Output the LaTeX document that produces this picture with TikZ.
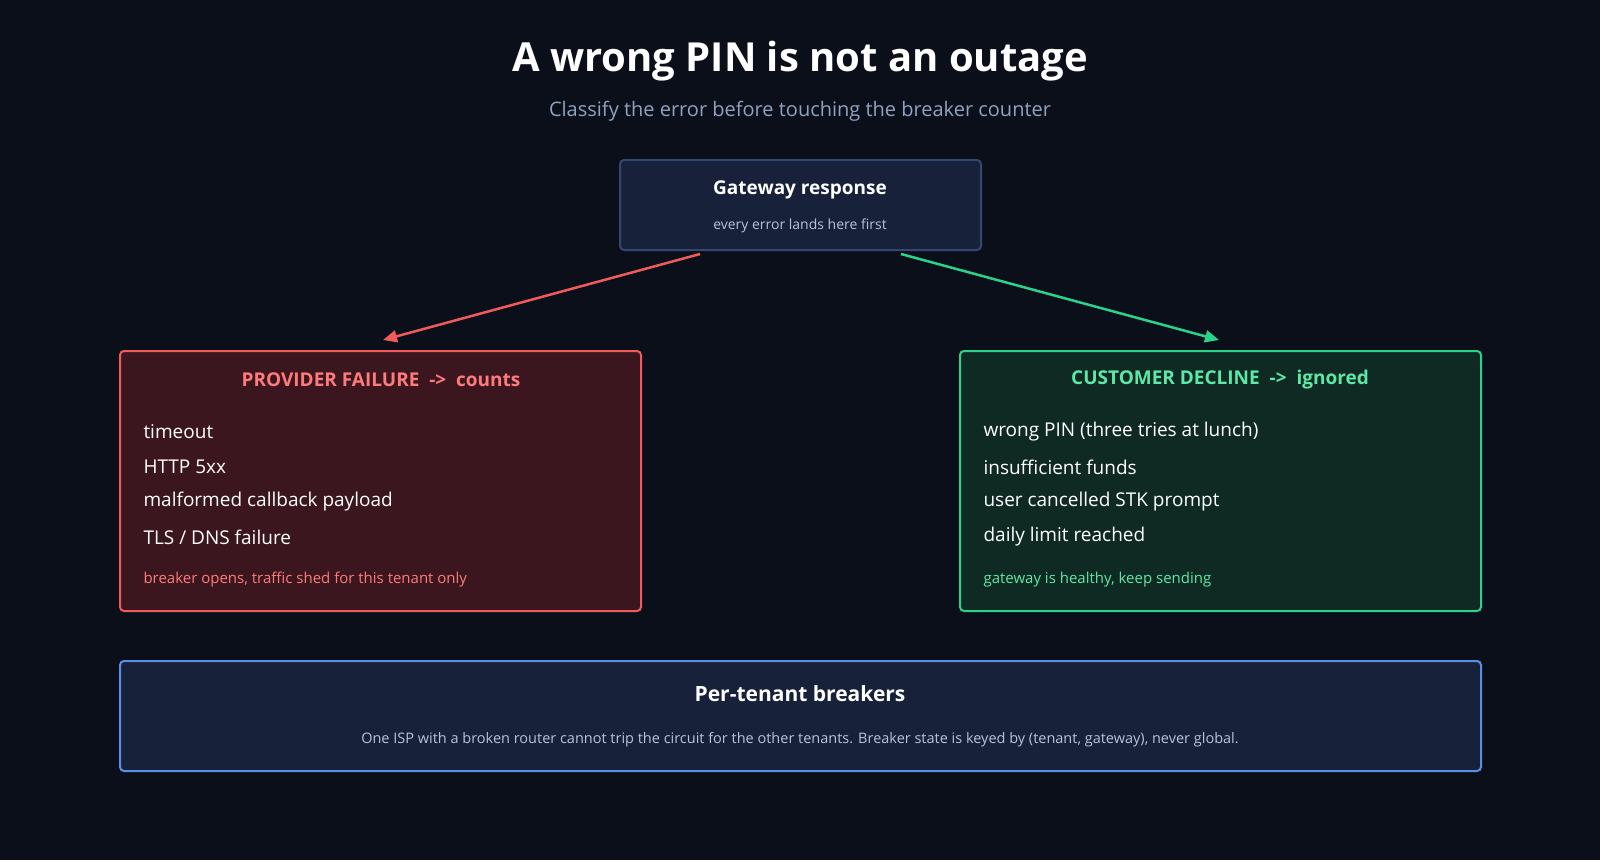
\documentclass[tikz,border=0pt]{standalone}
\usepackage{fontspec}
\setmainfont{Open Sans}
\usetikzlibrary{arrows.meta}
\definecolor{bg}{HTML}{0B0F1A}
\definecolor{gfill}{HTML}{172139}
\definecolor{gline}{HTML}{34476F}
\definecolor{rfill}{HTML}{3B161F}
\definecolor{rline}{HTML}{F05A5A}
\definecolor{rtext}{HTML}{FF7B7B}
\definecolor{cfill}{HTML}{0F2A22}
\definecolor{cline}{HTML}{2BD38A}
\definecolor{ctext}{HTML}{5EE8A8}
\definecolor{bline}{HTML}{5B8EE6}
\definecolor{sub}{HTML}{8FA3C0}
\definecolor{small}{HTML}{B8C4D8}
\tikzset{
 box/.style={draw, line width=2pt, rounded corners=4pt},
 item/.style={anchor=west, text=white, font=\fontsize{19}{22}\selectfont},
 arr/.style={line width=2.5pt, -{Triangle[length=14pt,width=12pt]}}
}
\begin{document}
\begin{tikzpicture}[x=1pt,y=-1pt]
\fill[bg] (0,0) rectangle (1600,860);
\useasboundingbox (0,0) rectangle (1600,860);
\node (title) at (800,61) {\fontsize{40}{46}\selectfont\bfseries\color{white}A wrong PIN is not an outage};
\node (subt) at (800,111) {\fontsize{20}{24}\selectfont\color{sub}Classify the error before touching the breaker counter};
% gateway
\draw[box, fill=gfill, draw=gline] (620,160) rectangle (981,250);
\node (gw) at (800,190) {\fontsize{19}{22}\selectfont\bfseries\color{white}Gateway response};
\node (gws) at (800,226) {\fontsize{14}{17}\selectfont\color{small}every error lands here first};
\coordinate (ga) at (700,254); \coordinate (gb) at (901,254);
\coordinate (la) at (383,340); \coordinate (rb) at (1219,340);
\draw[arr, draw=rline, fill=rline] (ga) -- (la);
\draw[arr, draw=cline, fill=cline] (gb) -- (rb);
% left
\draw[box, fill=rfill, draw=rline] (120,351) rectangle (641,611);
\node (lh) at (381,380) {\fontsize{19}{22}\selectfont\bfseries\color{rtext}PROVIDER FAILURE\ \ ->\ \ counts};
\node[item] (l1) at (140,432) {timeout};
\node[item] (l2) at (140,467) {HTTP 5xx};
\node[item] (l3) at (140,502) {malformed callback payload};
\node[item] (l4) at (140,537) {TLS / DNS failure};
\node[anchor=west] (lf) at (140,580) {\fontsize{15}{18}\selectfont\color{rtext}breaker opens, traffic shed for this tenant only};
% right
\draw[box, fill=cfill, draw=cline] (960,351) rectangle (1481,611);
\node (rh) at (1220,380) {\fontsize{19}{22}\selectfont\bfseries\color{ctext}CUSTOMER DECLINE\ \ ->\ \ ignored};
\node[item] (r1) at (980,432) {wrong PIN (three tries at lunch)};
\node[item] (r2) at (980,467) {insufficient funds};
\node[item] (r3) at (980,502) {user cancelled STK prompt};
\node[item] (r4) at (980,537) {daily limit reached};
\node[anchor=west] (rf) at (980,580) {\fontsize{15}{18}\selectfont\color{ctext}gateway is healthy, keep sending};
% bottom
\draw[box, fill=gfill, draw=bline] (120,661) rectangle (1481,771);
\node (bt) at (800,694) {\fontsize{21}{25}\selectfont\bfseries\color{white}Per-tenant breakers};
\node (bs) at (800,740) {\fontsize{14.5}{17}\selectfont\color{small}One ISP with a broken router cannot trip the circuit for the other tenants. Breaker state is keyed by (tenant, gateway), never global.};
\end{tikzpicture}
\end{document}
